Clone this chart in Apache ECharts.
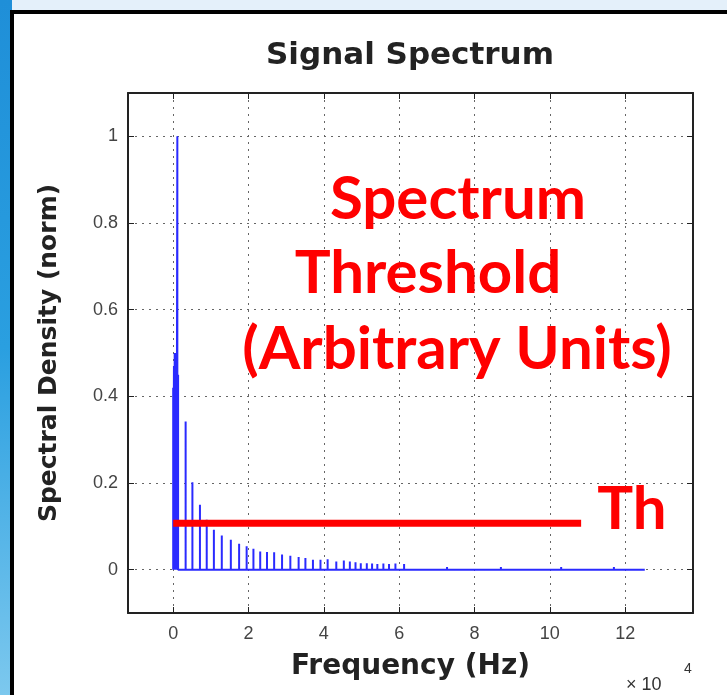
<!DOCTYPE html>
<html>
<head>
<meta charset="utf-8">
<script src="https://cdn.jsdelivr.net/npm/echarts@6/dist/echarts.min.js"></script>
<style>
html,body{margin:0;padding:0;background:#fff;}
#chart{width:727px;height:695px;}
</style>
</head>
<body>
<div id="chart"></div>
<script>
// Frequencies in units of 10^4 Hz
const freqs = [0.00, 0.02, 0.04, 0.07, 0.09, 0.11, 0.13, 0.33, 0.51, 0.71, 0.89, 1.08, 1.29, 1.53, 1.75, 1.95,
  2.13, 2.31, 2.49, 2.68, 2.89, 3.11, 3.33, 3.51, 3.71, 3.91, 4.10, 4.33, 4.53, 4.69, 4.84, 4.98,
  5.14, 5.28, 5.42, 5.58, 5.73, 5.90, 6.13, 7.27, 8.70, 10.30, 11.70];
const density = [0.42, 0.47, 0.50, 0.50, 0.48, 1.00, 0.45, 0.342, 0.202, 0.150, 0.115, 0.092, 0.079, 0.069, 0.060, 0.054,
  0.048, 0.042, 0.041, 0.040, 0.035, 0.032, 0.029, 0.027, 0.023, 0.023, 0.024, 0.019, 0.021, 0.019, 0.017, 0.015,
  0.015, 0.014, 0.013, 0.014, 0.013, 0.014, 0.013, 0.006, 0.006, 0.006, 0.006];
const spectrumEnd = 12.52;
const thresholdLevel = 0.107;
const thresholdRange = [0, 10.83];
const xTickLabels = ['0', '2', '4', '6', '8', '10', '12'];
const yTickLabels = ['0', '0.2', '0.4', '0.6', '0.8', '1'];

const stemData = [[0, 0]];
freqs.forEach((f, i) => {
  stemData.push([f, 0], [f, density[i]], [f, 0]);
});
stemData.push([spectrumEnd, 0]);

const chart = echarts.init(document.getElementById('chart'));
const gridLine = {show: true, lineStyle: {color: '#666', width: 1, type: [2, 5]}};
const tickFont = {color: '#444', fontSize: 18, fontFamily: 'Liberation Sans, Arial, sans-serif'};
const axisLineStyle = {show: true, onZero: false, lineStyle: {color: '#222', width: 2}};
const tickStyle = {show: true, inside: true, length: 6, lineStyle: {color: '#222'}};

const option = {
  backgroundColor: '#ffffff',
  animation: false,
  title: {
    text: 'Signal Spectrum',
    left: 405, top: 35, textAlign: 'center',
    textStyle: {fontFamily: 'DejaVu Sans, sans-serif', fontWeight: 'bold', fontSize: 31, color: '#222'}
  },
  grid: {left: 128, top: 93, right: 34, bottom: 82, containLabel: false},
  xAxis: [{
    type: 'value', position: 'bottom', min: -1.2, max: 13.8, splitNumber: 7,
    axisLine: axisLineStyle, axisTick: tickStyle,
    axisLabel: Object.assign({margin: 12, showMinLabel: false, showMaxLabel: false,
      formatter: v => { const s = String(v); return xTickLabels.includes(s) ? s : ''; }}, tickFont),
    splitLine: gridLine,
    name: 'Frequency (Hz)', nameLocation: 'middle', nameGap: 40,
    nameTextStyle: {fontFamily: 'DejaVu Sans, sans-serif', fontWeight: 'bold', fontSize: 28, color: '#222'}
  }, {
    type: 'value', position: 'top', min: -1.2, max: 13.8, splitNumber: 7,
    axisLine: axisLineStyle, axisTick: tickStyle,
    axisLabel: {show: false}, splitLine: {show: false}
  }],
  yAxis: [{
    type: 'value', position: 'left', min: -0.1, max: 1.1, splitNumber: 6,
    axisLine: axisLineStyle, axisTick: tickStyle,
    axisLabel: Object.assign({margin: 10, showMinLabel: false, showMaxLabel: false,
      formatter: v => { const s = String(Math.round(v * 10) / 10); return yTickLabels.includes(s) ? s : ''; }}, tickFont),
    splitLine: gridLine,
    name: 'Spectral Density (norm)', nameLocation: 'middle', nameGap: 66,
    nameTextStyle: {fontFamily: 'DejaVu Sans, sans-serif', fontWeight: 'bold', fontSize: 25, color: '#222'}
  }, {
    type: 'value', position: 'right', min: -0.1, max: 1.1, splitNumber: 6,
    axisLine: axisLineStyle, axisTick: tickStyle,
    axisLabel: {show: false}, splitLine: {show: false}
  }],
  series: [{
    type: 'line', xAxisIndex: 0, yAxisIndex: 0,
    data: stemData, showSymbol: false, symbol: 'none',
    lineStyle: {color: '#2a2aff', width: 2}, z: 3
  }, {
    type: 'line', xAxisIndex: 0, yAxisIndex: 0,
    data: [[thresholdRange[0], thresholdLevel], [thresholdRange[1], thresholdLevel]],
    showSymbol: false, symbol: 'none',
    lineStyle: {color: '#ff0000', width: 7, cap: 'butt'}, z: 5
  }],
  graphic: [
    {type: 'rect', z: -10, shape: {x: 0, y: 0, width: 727, height: 12}, style: {fill: '#e4f0fa'}},
    {type: 'rect', z: -9, shape: {x: 0, y: 0, width: 12, height: 695},
      style: {fill: new echarts.graphic.LinearGradient(0, 0, 0, 1, [
        {offset: 0, color: '#1f8fd8'}, {offset: 0.5, color: '#2a9fe0'}, {offset: 1, color: '#7cc8ee'}])}},
    {type: 'rect', z: -8, shape: {x: 12, y: 12, width: 740, height: 700},
      style: {fill: '#ffffff', stroke: '#000', lineWidth: 4}},
    {type: 'text', z: 10, left: 626, top: 676,
      style: {text: '× 10', fill: '#333', font: '18px Liberation Sans, Arial, sans-serif'}},
    {type: 'text', z: 10, left: 684, top: 662,
      style: {text: '4', fill: '#333', font: '14px Liberation Sans, Arial, sans-serif'}},
    {type: 'text', z: 10, x: 458, y: 200,
      style: {text: 'Spectrum', fill: '#ff0000', font: 'bold 60px Lato, sans-serif', align: 'center', verticalAlign: 'middle'}},
    {type: 'text', z: 10, x: 428, y: 274,
      style: {text: 'Threshold', fill: '#ff0000', font: 'bold 60px Lato, sans-serif', align: 'center', verticalAlign: 'middle'}},
    {type: 'text', z: 10, x: 457, y: 350,
      style: {text: '(Arbitrary Units)', fill: '#ff0000', font: 'bold 60px Lato, sans-serif', align: 'center', verticalAlign: 'middle'}},
    {type: 'text', z: 10, x: 632, y: 510,
      style: {text: 'Th', fill: '#ff0000', font: 'bold 60px Lato, sans-serif', align: 'center', verticalAlign: 'middle'}}
  ]
};
chart.setOption(option);
</script>
</body>
</html>
